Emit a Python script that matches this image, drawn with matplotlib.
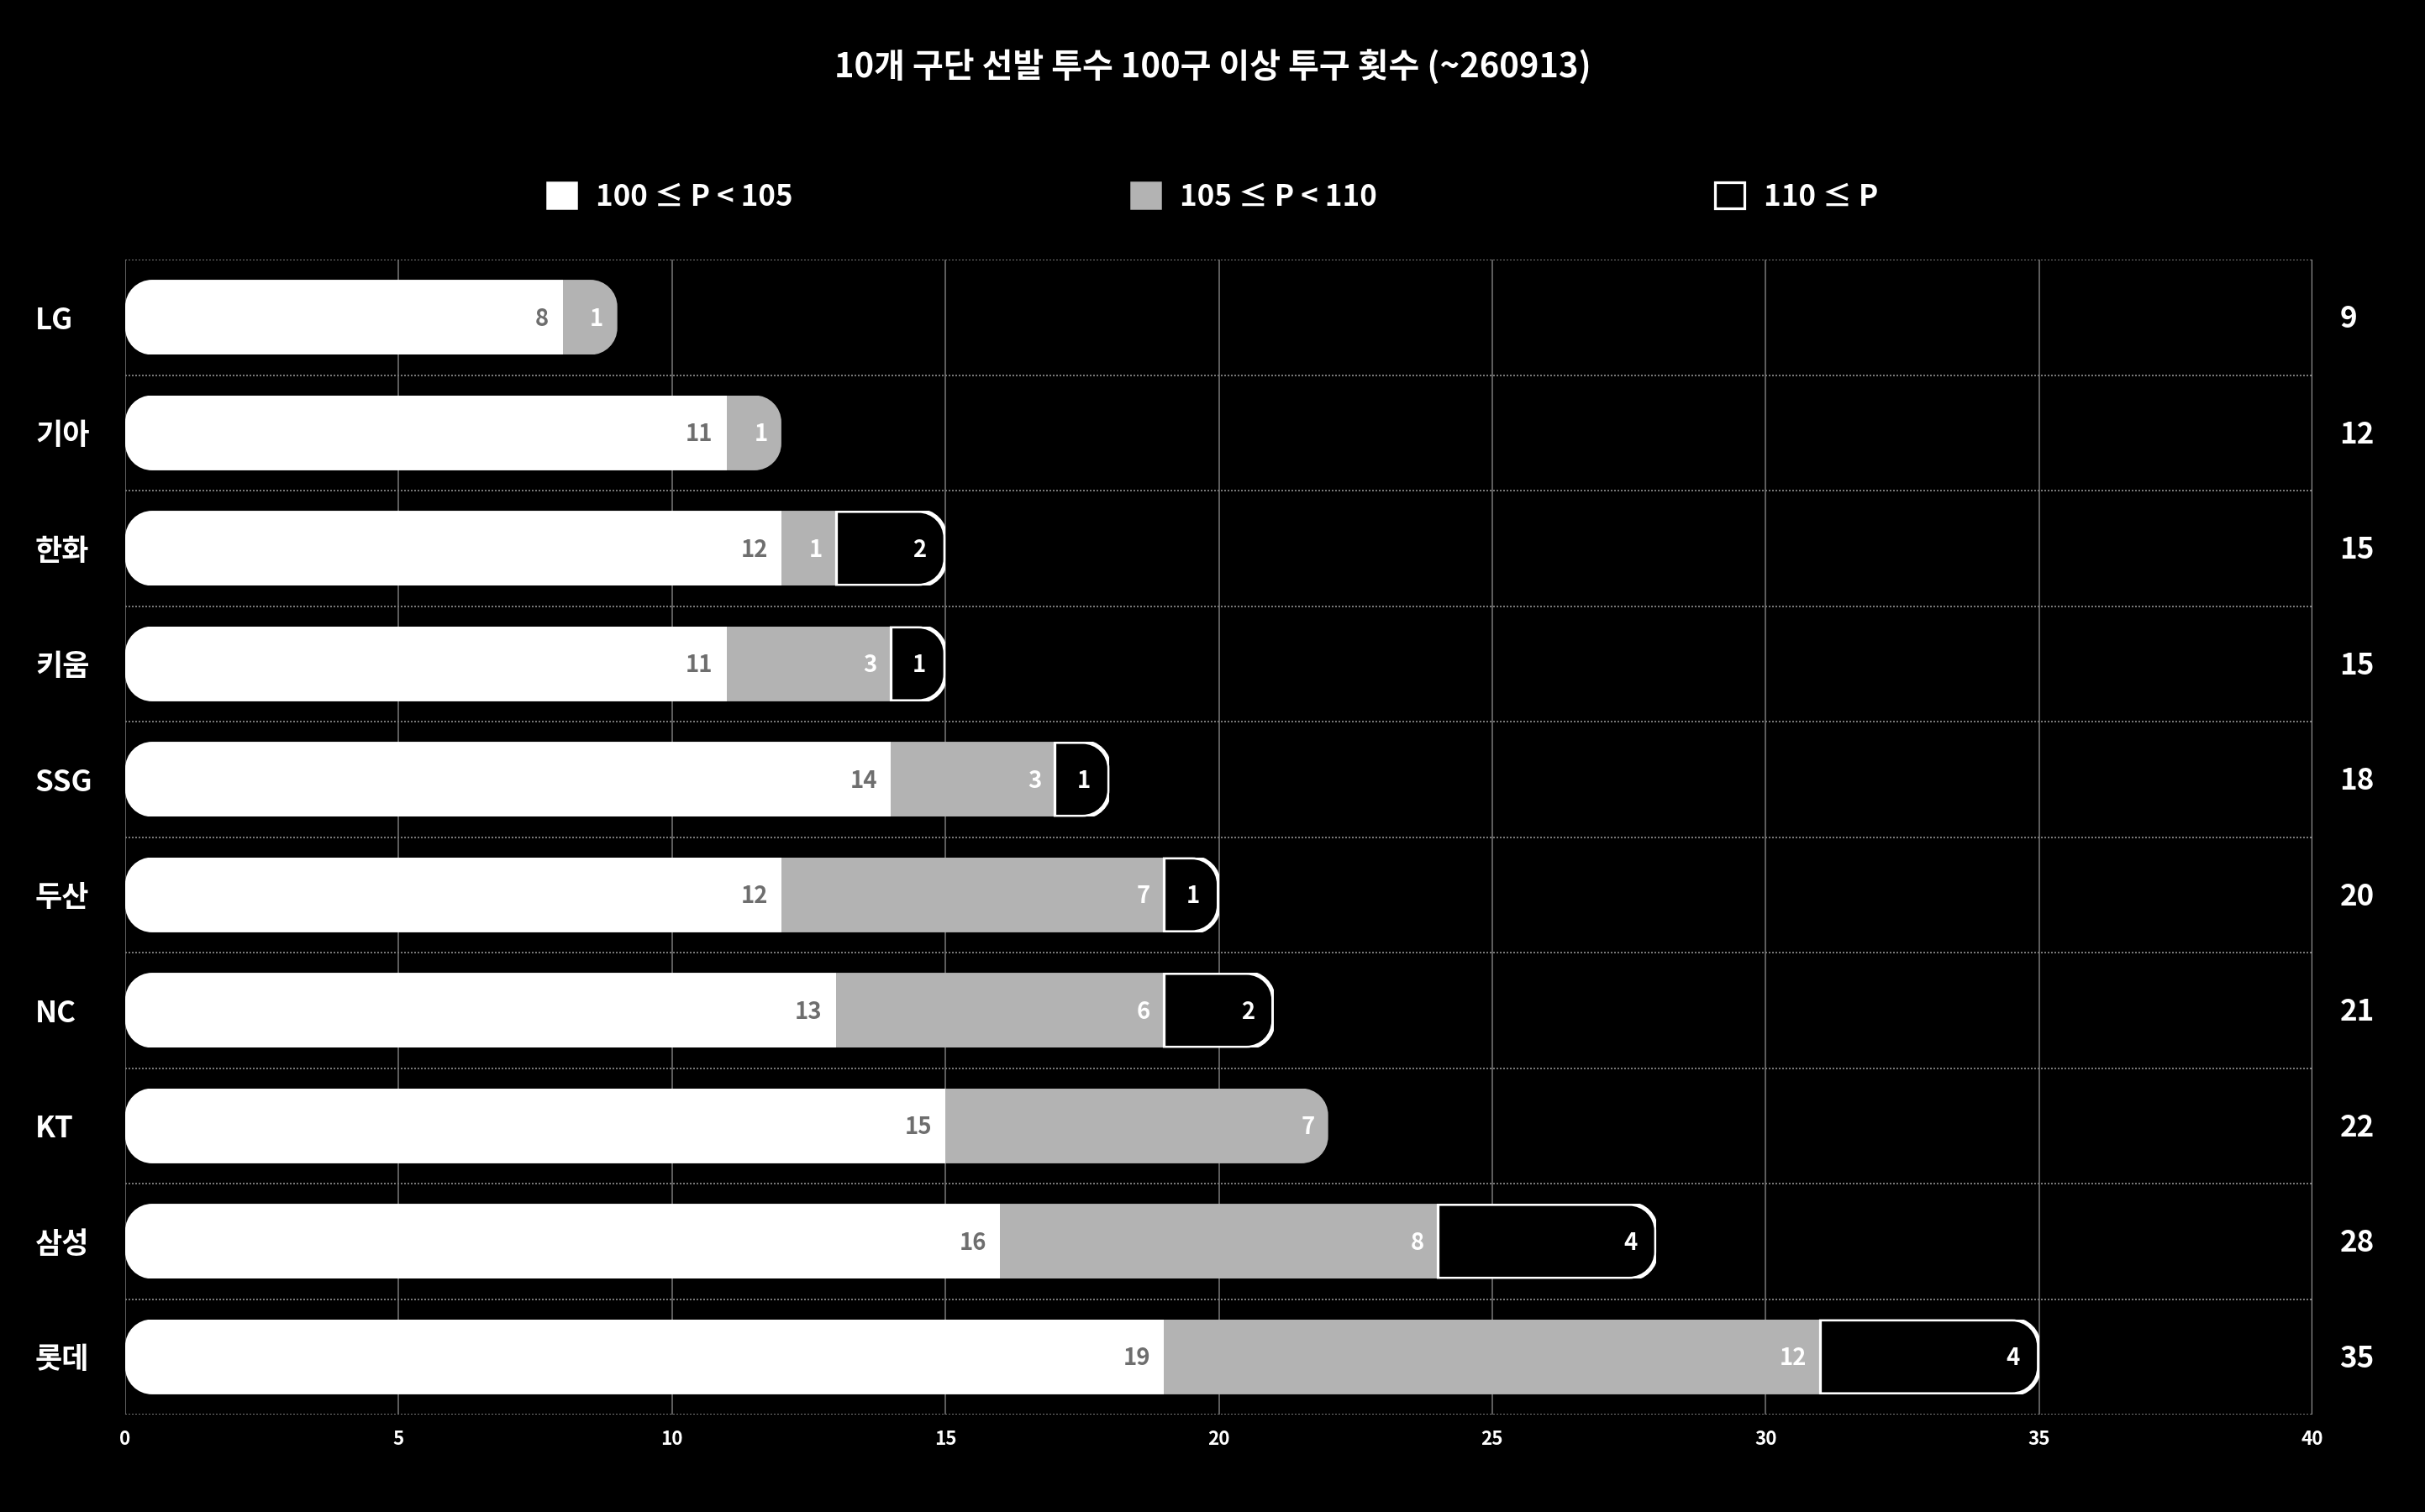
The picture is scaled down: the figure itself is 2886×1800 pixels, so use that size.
import matplotlib
matplotlib.use("Agg")
import matplotlib.pyplot as plt
from matplotlib.path import Path
from matplotlib.patches import PathPatch, Patch
import matplotlib.transforms as mtransforms
import numpy as np

plt.rcParams['font.family'] = ['Noto Sans CJK KR', 'DejaVu Sans']

teams = ['LG', '기아', '한화', '키움', 'SSG', '두산', 'NC', 'KT', '삼성', '롯데']
p100_105 = [8, 11, 12, 11, 14, 12, 13, 15, 16, 19]
p105_110 = [1, 1, 1, 3, 3, 7, 6, 7, 8, 12]
p110_up = [0, 0, 2, 1, 1, 1, 2, 0, 4, 4]
legend_labels = ['100 ≤ P < 105', '105 ≤ P < 110', '110 ≤ P']
title = '10개 구단 선발 투수 100구 이상 투구 횟수 (~260913)'
xticks = [0, 5, 10, 15, 20, 25, 30, 35, 40]

W, H, DPI = 2886, 1800, 180
fig = plt.figure(figsize=(W / DPI, H / DPI), dpi=DPI, facecolor='black')
ax_l, ax_b, ax_w, ax_h = 149 / W, 1 - 1684 / H, (2752 - 149) / W, (1684 - 309) / H
ax = fig.add_axes([ax_l, ax_b, ax_w, ax_h], facecolor='black')

n = len(teams)
y = np.arange(n)
bh = 0.65
xmax = 40
ax.set_xlim(0, xmax)
ax.set_ylim(n - 0.5, -0.5)

# rounding radius in pixels -> data units
rad_px = 32
px_per_x = ax_w * W / xmax
px_per_y = ax_h * H / n
rx = rad_px / px_per_x
ry = rad_px / px_per_y


def rounded_path(x0, x1, yc, h):
    y0, y1 = yc - h / 2, yc + h / 2
    k = 0.5523
    verts = [
        (x0 + rx, y0), (x1 - rx, y0),
        (x1 - rx + k * rx, y0), (x1, y0 + ry - k * ry), (x1, y0 + ry),
        (x1, y1 - ry),
        (x1, y1 - ry + k * ry), (x1 - rx + k * rx, y1), (x1 - rx, y1),
        (x0 + rx, y1),
        (x0 + rx - k * rx, y1), (x0, y1 - ry + k * ry), (x0, y1 - ry),
        (x0, y0 + ry),
        (x0, y0 + ry - k * ry), (x0 + rx - k * rx, y0), (x0 + rx, y0),
        (x0 + rx, y0),
    ]
    codes = [Path.MOVETO, Path.LINETO,
             Path.CURVE4, Path.CURVE4, Path.CURVE4,
             Path.LINETO,
             Path.CURVE4, Path.CURVE4, Path.CURVE4,
             Path.LINETO,
             Path.CURVE4, Path.CURVE4, Path.CURVE4,
             Path.LINETO,
             Path.CURVE4, Path.CURVE4, Path.CURVE4,
             Path.CLOSEPOLY]
    return Path(verts, codes)


a = np.array(p100_105)
b = np.array(p105_110)
c = np.array(p110_up)
tot = a + b + c

bars1 = ax.barh(y, a, height=bh, color='white', lw=0, zorder=3)
bars2 = ax.barh(y, b, left=a, height=bh, color='#b3b3b3', lw=0, zorder=3)
bars3 = ax.barh(y, c, left=a + b, height=bh, color='black', edgecolor='white',
                lw=1.3, zorder=4)

for i in range(n):
    clip = PathPatch(rounded_path(0, tot[i], y[i], bh), transform=ax.transData,
                     fc='none', ec='none')
    ax.add_patch(clip)
    clip.set_visible(False)
    for bars in (bars1, bars2, bars3):
        r = bars.patches[i]
        if r.get_width() == 0:
            r.set_visible(False)
        else:
            r.set_clip_path(clip)
    if c[i] > 0:
        outline = PathPatch(rounded_path(0, tot[i], y[i], bh), transform=ax.transData,
                            fc='none', ec='white', lw=2.0, zorder=5)
        ax.add_patch(outline)
        outline.set_clip_path(bars3.patches[i])

# small downward shift (pixels) to match reference text centring
shift = mtransforms.ScaledTranslation(0, -2 / DPI, fig.dpi_scale_trans)
tdata = ax.transData + shift

off = 0.25
for i in range(n):
    ax.text(a[i] - off, y[i], str(a[i]), ha='right', va='center', color='#6e6e6e',
            fontsize=11, fontweight='bold', zorder=6, transform=tdata)
    if b[i] > 0:
        ax.text(a[i] + b[i] - off, y[i], str(b[i]), ha='right', va='center',
                color='white', fontsize=11, fontweight='bold', zorder=6, transform=tdata)
    if c[i] > 0:
        ax.text(tot[i] - off - 0.1, y[i], str(c[i]), ha='right', va='center',
                color='white', fontsize=11, fontweight='bold', zorder=6, transform=tdata)
    ax.text(40.5, y[i], str(tot[i]), ha='left', va='center', color='white',
            fontsize=14, fontweight='bold', clip_on=False, transform=tdata)

# grid
ax.set_xticks(xticks)
ax.set_xticklabels([str(t) for t in xticks], color='white', fontsize=9,
                   fontweight='bold')
ax.set_yticks(y)
ax.set_yticklabels(teams, color='white', fontsize=14, fontweight='bold')
for lab in ax.get_yticklabels():
    lab.set_ha('left')
    lab.set_transform(lab.get_transform() + shift)
ax.tick_params(axis='y', length=0, pad=(149 - 42) / 2.5)
ax.tick_params(axis='x', length=0, pad=7)
ax.set_yticks(np.arange(-0.5, n, 1.0), minor=True)
ax.tick_params(axis='y', which='minor', length=0)
ax.grid(axis='x', which='major', color='#5c5c5c', lw=0.8, zorder=0)
ax.grid(axis='y', which='minor', color='#777777', lw=0.8, ls=(0, (1, 1)), zorder=0)
ax.grid(axis='y', which='major', visible=False)
ax.set_axisbelow(True)
for s in ax.spines.values():
    s.set_visible(False)
ax.axvline(40, color='#9a9a9a', lw=0.9, zorder=1)

fig.text(0.5, 1 - 80 / H, title, ha='center', va='center', color='white',
         fontsize=16, fontweight='bold')

handles = [Patch(facecolor='white', edgecolor='white'),
           Patch(facecolor='#b3b3b3', edgecolor='#b3b3b3'),
           Patch(facecolor='black', edgecolor='white', lw=1.3)]
leg = fig.legend(handles, legend_labels, loc='center', bbox_to_anchor=(0.5, 1 - 234 / H),
                 ncol=3, frameon=False, handlelength=1.0, handleheight=1.0,
                 handletextpad=0.65, columnspacing=11.5,
                 prop={'weight': 'bold', 'size': 14})
for t in leg.get_texts():
    t.set_color('white')

fig.savefig('out.png', dpi=DPI, facecolor='black')
